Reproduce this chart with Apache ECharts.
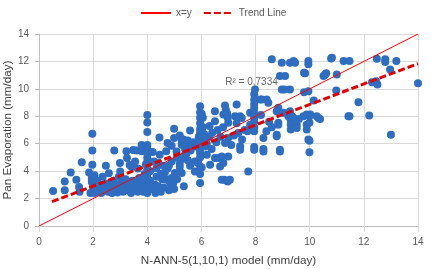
<!DOCTYPE html>
<html>
<head>
<meta charset="utf-8">
<script src="https://cdn.jsdelivr.net/npm/echarts@6/dist/echarts.min.js"></script>
<style>
  html, body { margin: 0; padding: 0; background: #fff; }
  #chart { width: 431px; height: 269px; }
</style>
</head>
<body>
<div id="chart"></div>
<script>
// 观测点 [模型值, 蒸发皿值]
var points = [
  [0.52,2.55],[0.95,3.25],[0.95,2.6],[1.17,3.9],[1.38,3.37],[1.48,2.85],[1.5,2.5],[1.58,4.65],
  [1.85,3.9],[1.97,6.73],[1.97,5.5],[1.97,4.47],[1.95,3.5],[1.95,3.2],[2.0,2.9],[2.0,2.6],
  [1.9,2.4],[2.05,3.7],[2.1,2.5],[2.1,3.1],
  [2.05,2.4],[2.1,2.8],[2.15,3.3],[2.2,2.6],[2.25,3.0],[2.3,2.4],[2.35,3.6],[2.4,2.7],
  [2.47,4.4],[2.5,3.1],[2.55,2.5],[2.58,3.85],[2.6,2.9],[2.7,2.4],[2.75,3.3],[2.78,5.5],
  [2.8,2.6],[2.85,3.0],[2.9,2.45],[2.95,3.6],[2.99,4.6],[3.0,3.98],[3.0,2.7],[3.05,3.2],
  [3.1,2.5],[3.15,2.9],[3.2,3.4],[3.23,5.45],[3.25,4.95],[3.3,2.6],[3.35,4.45],[3.35,3.0],
  [3.4,2.4],[3.42,4.3],[3.45,3.3],[3.48,5.55],[3.5,2.7],[3.55,4.7],[3.6,5.5],[3.6,3.0],
  [3.65,4.2],[3.65,2.5],[3.7,3.5],[3.75,2.8],[3.79,5.9],[3.8,5.45],[3.8,3.2],[3.85,2.5],
  [3.9,3.8],[3.9,2.9],[3.95,4.5],
  [4.0,8.1],[4.0,7.55],[4.0,6.85],[4.0,5.9],[4.0,5.6],[4.0,5.3],[4.0,5.0],[4.0,4.7],
  [4.0,4.4],[4.0,4.1],[4.0,3.8],[4.0,3.5],[4.0,3.2],[4.0,2.9],[4.0,2.6],[4.0,2.4],
  [4.1,4.0],[4.1,3.3],[4.15,2.7],[4.2,3.0],[4.25,4.7],
  [4.28,3.0],[4.34,4.22],[4.34,3.6],[4.45,6.45],[4.46,5.2],[4.5,2.5],[4.55,3.4],[4.6,2.8],
  [4.65,3.9],[4.7,5.45],[4.71,3.37],[4.75,6.05],[4.75,4.2],[4.8,2.6],[4.85,3.1],[4.9,5.85],
  [4.9,4.7],[4.96,3.13],[4.99,7.1],[4.99,6.42],[4.99,2.69],[5.02,3.86],[5.08,5.44],[4.4,4.6],
  [4.4,2.9],[4.6,4.4],[4.3,2.4],[4.5,3.8],[4.8,4.4],[4.9,3.5],[4.2,5.4],
  [5.2,4.54],[5.2,4.3],[5.27,6.24],[5.27,3.86],[5.27,5.93],[5.33,6.3],[5.39,5.2],[5.49,6.24],
  [5.51,5.8],[5.58,6.97],[5.58,4.4],[5.6,5.5],[5.7,6.1],[5.76,4.71],[5.76,3.98],[5.8,5.8],
  [5.88,4.59],[5.9,6.5],[5.95,3.13],[5.95,3.8],[5.95,8.73],[5.95,8.3],[5.95,7.9],[5.95,7.5],
  [5.95,7.1],[5.95,6.8],[5.95,6.5],[5.95,6.2],[5.95,5.9],[5.95,5.6],[5.95,5.32],[5.95,5.0],
  [5.95,4.34],[5.4,5.6],[5.1,5.0],[5.3,4.9],[5.5,4.8],[5.45,5.3],[5.65,5.9],[5.85,6.1],
  [5.2,6.6],[5.35,2.9],[5.1,3.4],
  [6.01,4.27],[6.01,8.18],[6.05,7.9],[6.05,7.2],[6.1,6.7],[6.1,6.2],[6.15,5.8],[6.2,6.0],
  [6.3,6.5],[6.32,4.47],[6.38,5.61],[6.5,8.37],[6.5,7.64],[6.5,4.95],[6.55,6.1],[6.62,4.95],
  [6.69,4.34],[6.75,5.07],[6.75,3.37],[6.81,4.59],[6.81,8.13],[6.84,3.37],[6.87,8.78],[6.87,6.05],
  [6.9,8.5],[6.95,8.2],[6.97,7.9],[6.99,7.52],[6.99,6.42],[6.99,5.07],[6.97,3.24],[7.05,3.37],
  [6.4,6.8],[6.7,6.5],[6.6,7.0],[6.2,5.2],[6.8,7.2],[6.3,7.3],
  [7.24,8.0],[7.3,8.86],[7.36,6.79],[7.43,8.0],[7.43,5.81],[7.43,5.56],[7.49,7.88],[7.5,6.3],
  [7.6,7.0],[7.73,3.98],[7.8,8.25],[7.8,7.39],[7.98,9.96],[7.95,9.6],[7.95,9.2],[7.95,8.9],
  [7.95,8.6],[7.95,8.25],[7.95,7.9],[7.95,7.6],[7.95,7.2],[7.95,6.9],[7.95,5.76],[7.95,5.56],
  [7.1,5.9],[7.2,6.6],[7.7,6.9],[7.3,7.5],
  [8.17,9.22],[8.23,9.22],[8.29,6.42],[8.29,5.61],[8.29,5.44],[8.41,9.22],[8.47,8.98],[8.6,12.15],
  [8.78,8.37],[8.78,6.66],[8.78,6.54],[8.84,8.62],[8.84,7.52],[8.84,7.39],[8.9,10.93],[8.9,5.56],
  [8.9,5.44],[8.97,11.91],[8.97,9.96],[9.03,8.25],[8.5,7.6],[8.2,8.1],[8.6,7.2],[8.4,6.9],
  [9.09,10.93],[9.06,9.96],[9.21,8.0],[9.27,11.91],[9.27,9.96],[9.27,8.37],[9.3,7.7],[9.3,7.4],
  [9.3,7.03],[9.34,8.0],[9.4,12.03],[9.46,11.91],[9.52,7.39],[9.52,7.15],[9.77,8.0],[9.79,11.18],
  [9.79,9.76],[9.83,11.13],[9.89,8.13],[9.89,7.39],[9.89,7.03],[9.95,12.03],[9.95,11.79],[9.95,9.83],
  [9.95,6.3],[9.99,6.22],[9.99,5.37],[9.99,7.52],[9.99,8.0],[9.6,7.8],[9.4,7.9],
  [10.02,8.13],[10.15,9.15],[10.26,8.0],[10.32,7.88],[10.38,7.81],[10.51,10.93],[10.57,11.05],[10.61,11.13],
  [10.79,12.22],[10.82,12.27],[10.98,9.88],[11.0,11.05],[11.25,12.03],[11.43,8.0],[11.47,12.03],[11.47,8.0],
  [11.8,9.03],[12.2,8.05],[12.3,10.49],[12.45,10.56],[12.48,12.2],[12.5,10.32],[12.79,12.15],[12.79,11.96],
  [12.97,11.42],[13.0,6.66],[13.2,12.03],[14.0,10.4]
];
// x=y 参考线
var xyLine = [[0, 0], [14, 14]];
// 趋势线端点
var trendLine = [[0.48, 1.78], [14, 11.84]];
var r2Text = 'R² = 0,7334';
var r2Pos = [6.88, 10.5];
var xTicks = [0, 2, 4, 6, 8, 10, 12, 14];
var yTicks = [0, 2, 4, 6, 8, 10, 12, 14];

var font = 'Liberation Sans';
var myCharts = echarts.init(document.getElementById('chart'));
var option = {
  animation: false,
  textStyle: { fontFamily: font },
  legend: {
    data: ['x=y', 'Trend Line'],
    left: 135,
    top: 3,
    itemWidth: 30,
    itemHeight: 12,
    itemGap: 11,
    itemStyle: { opacity: 0 },
    textStyle: { fontFamily: font, fontSize: 10, color: '#595959' }
  },
  grid: { left: 39, right: 13, top: 34, bottom: 43, containLabel: false, outerBoundsMode: 'none' },
  xAxis: {
    type: 'value',
    min: xTicks[0],
    max: xTicks[xTicks.length - 1],
    interval: 2,
    name: 'N-ANN-5(1,10,1) model (mm/day)',
    nameLocation: 'middle',
    nameGap: 29,
    nameMoveOverlap: false,
    nameTextStyle: { fontFamily: font, fontSize: 11.7, color: '#404040' },
    axisLine: { lineStyle: { color: '#bfbfbf' } },
    axisTick: { show: true, length: 6, lineStyle: { color: '#d9d9d9' } },
    axisLabel: { fontFamily: font, fontSize: 10, color: '#595959', margin: 11 },
    splitLine: { show: true, lineStyle: { color: '#d9d9d9' } }
  },
  yAxis: {
    type: 'value',
    min: yTicks[0],
    max: yTicks[yTicks.length - 1],
    interval: 2,
    name: 'Pan Evaporation (mm/day)',
    nameLocation: 'middle',
    nameGap: 25,
    nameMoveOverlap: false,
    nameTextStyle: { fontFamily: font, fontSize: 11.7, color: '#404040' },
    axisLine: { show: true, lineStyle: { color: '#bfbfbf' } },
    axisTick: { show: true, length: 4, lineStyle: { color: '#bfbfbf' } },
    axisLabel: { fontFamily: font, fontSize: 10, color: '#595959', margin: 10 },
    splitLine: { show: true, lineStyle: { color: '#d9d9d9' } }
  },
  series: [
    {
      name: 'data',
      type: 'scatter',
      symbolSize: 8,
      itemStyle: { color: '#2e6dc0', opacity: 1 },
      data: points
    },
    {
      name: 'x=y',
      type: 'line',
      symbol: 'none',
      lineStyle: { color: '#ff0000', width: 1 },
      itemStyle: { color: '#ff0000' },
      data: xyLine
    },
    {
      name: 'Trend Line',
      type: 'line',
      symbol: 'none',
      lineStyle: { color: '#e00000', width: 3, type: [7, 3] },
      itemStyle: { color: '#e00000' },
      data: trendLine
    },
    {
      name: 'r2',
      type: 'scatter',
      symbolSize: 0,
      silent: true,
      label: {
        show: true,
        position: 'right',
        distance: 0,
        formatter: r2Text,
        fontFamily: font,
        fontSize: 10,
        color: '#404040'
      },
      data: [r2Pos]
    }
  ]
};
myCharts.setOption(option);
</script>
</body>
</html>
